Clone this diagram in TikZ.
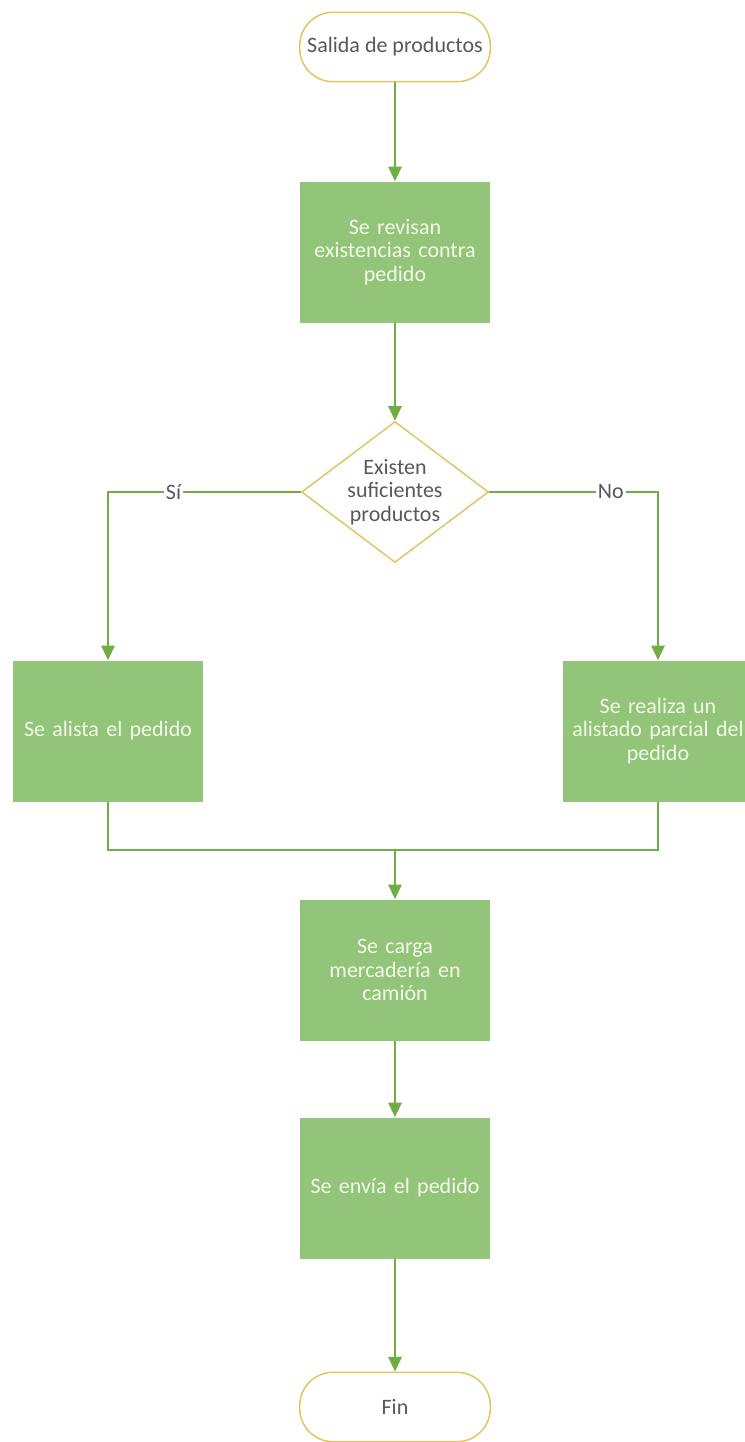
\documentclass[tikz,border=0pt]{standalone}
\usepackage{fontspec}
\setmainfont{Carlito}
\usetikzlibrary{arrows.meta,shapes.geometric}
\definecolor{flowgreen}{RGB}{112,173,71}
\definecolor{boxgreen}{RGB}{146,196,122}
\definecolor{termgold}{RGB}{226,196,96}
\definecolor{textgray}{RGB}{89,89,89}
\definecolor{boxtext}{RGB}{244,249,232}
\newcommand{\flowfont}{\fontsize{16.5}{17.5}\selectfont}

\tikzset{
  terminal/.style={draw=termgold, line width=1.1pt, fill=white, rounded corners=25pt,
    minimum width=143pt, minimum height=52pt, text=textgray, font=\flowfont},
  process/.style={fill=boxgreen, minimum width=142.5pt, minimum height=105.75pt,
    text width=135pt, align=center, text=boxtext, font=\flowfont},
  decision/.style={diamond, draw=termgold, line width=1.1pt, fill=white, inner sep=0pt,
    minimum width=140.25pt, minimum height=105.75pt},
  flow/.style={flowgreen, line width=1.5pt},
  arrow/.style={flow, -{Triangle[length=11pt,width=10pt]}},
  answer/.style={fill=white, text=textgray, inner sep=1.5pt, font=\flowfont}
}

\begin{document}
\begin{tikzpicture}[x=0.75pt,y=-0.75pt]
\useasboundingbox (0,0) rectangle (745,1442);

\node[terminal] (salida) at (395,47) {Salida de productos};
\node[process] (revisar) at (395,252) {Se revisan\\existencias contra\\pedido};
\node[decision, label={[align=center, text=textgray, font=\flowfont]center:Existen\\suficientes\\productos}] (existen) at (395,492) {};
\node[process] (alistar) at (108,731) {Se alista el pedido};
\node[process] (parcial) at (658,731) {Se realiza un\\alistado parcial del\\pedido};
\coordinate (union) at (395,850);
\node[process] (cargar) at (395,970) {Se carga\\mercadería en\\camión};
\node[process] (enviar) at (395,1188) {Se envía el pedido};
\node[terminal] (fin) at (395,1407) {Fin};

\draw[arrow] (salida) -- (revisar);
\draw[arrow] (revisar) -- (existen);
\draw[arrow] (existen.west) -| node[answer, pos=0.33] {Sí} (alistar);
\draw[arrow] (existen.east) -| node[answer, pos=0.36] {No} (parcial);
\draw[flow] (alistar.south) |- (union) -| (parcial.south);
\draw[arrow] (union) -- (cargar);
\draw[arrow] (cargar) -- (enviar);
\draw[arrow] (enviar) -- (fin);
\end{tikzpicture}
\end{document}
